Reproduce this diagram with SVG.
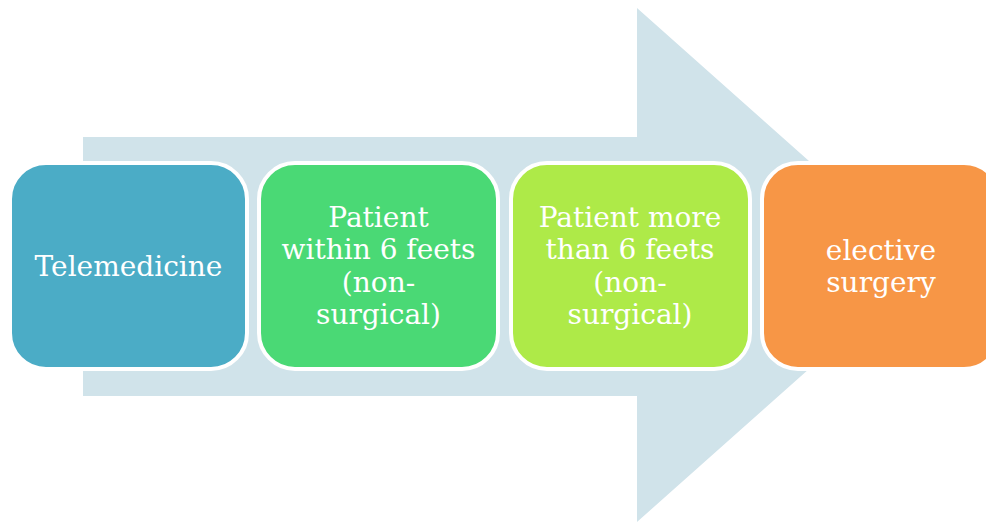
<svg xmlns="http://www.w3.org/2000/svg" width="986" height="523" viewBox="0 0 986 523">
<style>
.box{stroke:#FFFFFF;stroke-width:4}
.t{font-family:"DejaVu Serif","Liberation Serif",serif;font-size:28px;fill:#FFFFFF;text-anchor:middle}
</style>
<rect width="986" height="523" fill="#FFFFFF"/>
<g id="arrow">
<polygon points="83,137 637,137 637,8 926,265 637,522 637,396 83,396" fill="#D0E3EA"/>
</g>
<g id="connectors"></g>
<g id="n1">
<rect class="box" x="10" y="163" width="237" height="206" rx="36" fill="#4BACC6"/>
<text class="t" x="128.5" y="276">Telemedicine</text>
</g>
<g id="n2">
<rect class="box" x="259" y="163" width="239" height="206" rx="36" fill="#4AD975"/>
<text class="t" x="378.5" y="227">Patient</text>
<text class="t" x="378.5" y="259">within 6 feets</text>
<text class="t" x="378.5" y="292">(non-</text>
<text class="t" x="378.5" y="324">surgical)</text>
</g>
<g id="n3">
<rect class="box" x="511" y="163" width="239" height="206" rx="36" fill="#AEEA48"/>
<text class="t" x="630" y="227">Patient more</text>
<text class="t" x="630" y="259">than 6 feets</text>
<text class="t" x="630" y="292">(non-</text>
<text class="t" x="630" y="324">surgical)</text>
</g>
<g id="n4">
<rect class="box" x="762" y="163" width="238" height="206" rx="36" fill="#F79646"/>
<text class="t" x="881" y="260">elective</text>
<text class="t" x="881" y="292">surgery</text>
</g>
</svg>
